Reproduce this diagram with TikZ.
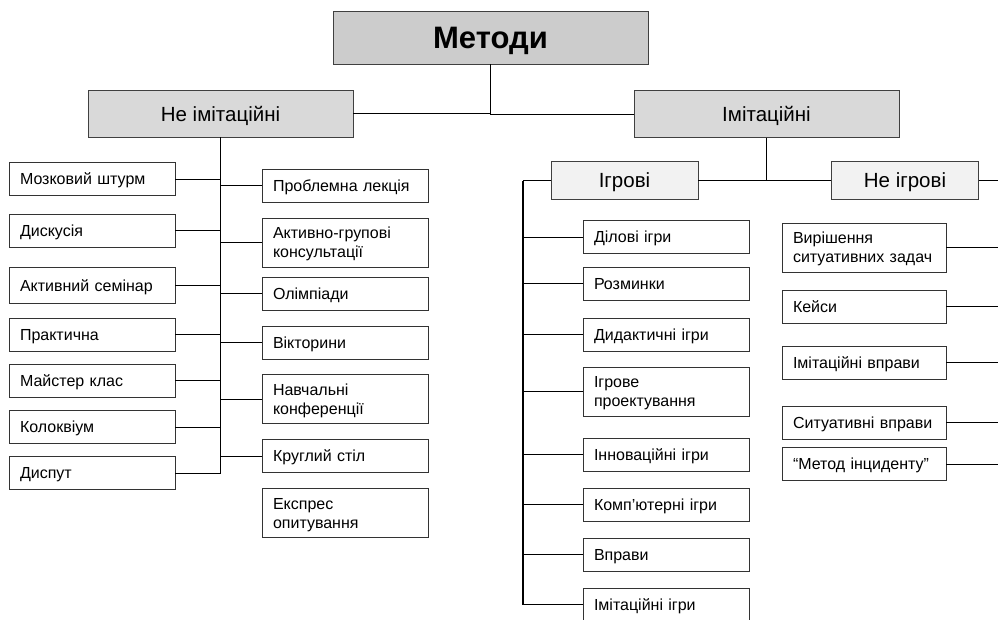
\documentclass[tikz,border=0pt]{standalone}
\usepackage{fontspec}
\setmainfont{Liberation Sans}
\usepackage{tikz}
\usetikzlibrary{shapes, arrows}
\tikzstyle{line} = [draw=black, line width=0.8pt]
\tikzstyle{trunk} = [draw=black, line width=1.4pt]
\tikzstyle{topbox} = [rectangle, minimum width = 315pt, minimum height = 53pt, text centered, text depth = 0pt, draw=black!75, line width=0.9pt, fill=gray!40, font=\fontsize{31}{36}\selectfont\bfseries]
\tikzstyle{groupbox} = [rectangle, minimum width = 265pt, minimum height = 47pt, text centered, text depth = 0pt, draw=black!75, line width=0.9pt, fill=gray!30, font=\fontsize{20.5}{24}\selectfont]
\tikzstyle{subbox} = [rectangle, minimum width = 147pt, minimum height = 38pt, text centered, text depth = 0pt, draw=black!75, line width=0.9pt, fill=gray!10, font=\fontsize{20.5}{24}\selectfont]
\tikzstyle{methodbox} = [rectangle, text width = 144pt, inner xsep = 11pt, minimum height = 33pt, align=left, text depth = 0pt, draw=black!80, line width=0.9pt, font=\fontsize{16}{19}\selectfont]
\tikzstyle{methodbox2} = [methodbox, minimum height = 49pt, text depth = 19pt]

\begin{document}
\begin{tikzpicture}[x=1pt, y=-1pt, node distance = 50pt]
				\useasboundingbox (0,0) rectangle (998,619);
				%\node(label)[type]{name}
				\node(metody)[topbox] at (490.5,37.5){Методи};
				\node(neimit)[groupbox] at (220.5,113.5){Не імітаційні};
				\node(imit)[groupbox] at (766.5,114){Імітаційні};
				\node(igrovi)[subbox] at (624.5,180.5){Ігрові};
				\node(neigrovi)[subbox] at (905,180.5){Не ігрові};
				
				%left column
				\node(mozk)[methodbox] at (92,179){Мозковий штурм};
				\node(dysk)[methodbox, below of = mozk, yshift = -1.5]{Дискусія};
				\node(aktsem)[methodbox, minimum height = 36pt, below of = dysk, yshift = -5]{Активний семінар};
				\node(prakt)[methodbox, below of = aktsem, yshift = 1]{Практична};
				\node(maister)[methodbox, below of = prakt, yshift = 4]{Майстер клас};
				\node(kolok)[methodbox, below of = maister, yshift = 3.5]{Колоквіум};
				\node(dysput)[methodbox, below of = kolok, yshift = 4]{Диспут};
				
				%middle column
				\node(problem)[methodbox] at (345,185.5){Проблемна лекція};
				\node(aktgrup)[methodbox2, below of = problem, yshift = -7]{Активно-групові\\консультації};
				\node(olimp)[methodbox, below of = aktgrup, yshift = -1]{Олімпіади};
				\node(viktor)[methodbox, below of = olimp, yshift = 1]{Вікторини};
				\node(navch)[methodbox2, below of = viktor, yshift = -6.5]{Навчальні\\конференції};
				\node(kruglyi)[methodbox, below of = navch, yshift = -7]{Круглий стіл};
				\node(ekspres)[methodbox2, below of = kruglyi, yshift = -7]{Експрес\\опитування};
				
				%games
				\node(dilovi)[methodbox] at (666,237){Ділові ігри};
				\node(rozm)[methodbox, below of = dilovi, yshift = 3.5]{Розминки};
				\node(dydakt)[methodbox, below of = rozm, yshift = -1]{Дидактичні ігри};
				\node(igrproekt)[methodbox2, below of = dydakt, yshift = -7]{Ігрове\\проектування};
				\node(innov)[methodbox, below of = igrproekt, yshift = -13]{Інноваційні ігри};
				\node(komp)[methodbox, below of = innov]{Комп’ютерні ігри};
				\node(vpravy)[methodbox, below of = komp]{Вправи};
				\node(imigry)[methodbox, below of = vpravy]{Імітаційні ігри};
				
				%not games
				\node(vyrish)[methodbox2, text width = 142pt] at (864,247.5){Вирішення\\ситуативних задач};
				\node(keisy)[methodbox, text width = 142pt, below of = vyrish, yshift = -9]{Кейси};
				\node(imvpr)[methodbox, text width = 142pt, below of = keisy, yshift = -6]{Імітаційні вправи};
				\node(sytvpr)[methodbox, text width = 142pt, below of = imvpr, yshift = -10]{Ситуативні вправи};
				\node(incid)[methodbox, text width = 142pt, below of = sytvpr, yshift = 8.5]{“Метод інциденту”};
				
				\coordinate(nend) at (neimit.south |- dysput.east);
				\coordinate(gturn) at (523,180.5);
				\coordinate(gend) at (gturn |- imigry.west);
				\coordinate(nturn) at (1010,180.5);
				
				%arrows
					\draw [line] (metody) |- (neimit);
					\draw [line] (metody) |- (imit);
					\draw [trunk] (neimit) -- (nend);
					\draw [line] (mozk) -- (mozk -| nend);
					\draw [line] (dysk) -- (dysk -| nend);
					\draw [line] (aktsem) -- (aktsem -| nend);
					\draw [line] (prakt) -- (prakt -| nend);
					\draw [line] (maister) -- (maister -| nend);
					\draw [line] (kolok) -- (kolok -| nend);
					\draw [line] (dysput) -- (nend);
					\draw [line] (problem) -- (problem -| nend);
					\draw [line] (aktgrup) -- (aktgrup -| nend);
					\draw [line] (olimp) -- (olimp -| nend);
					\draw [line] (viktor) -- (viktor -| nend);
					\draw [line] (navch) -- (navch -| nend);
					\draw [line] (kruglyi) -- (kruglyi -| nend);
					
					\draw [line] (imit) |- (igrovi);
					\draw [line] (imit) |- (neigrovi);
					\draw [line] (igrovi) -- (gturn);
					\draw [trunk] (gturn) -- (gend);
					\draw [line] (dilovi) -- (dilovi -| gturn);
					\draw [line] (rozm) -- (rozm -| gturn);
					\draw [line] (dydakt) -- (dydakt -| gturn);
					\draw [line] (igrproekt) -- (igrproekt -| gturn);
					\draw [line] (innov) -- (innov -| gturn);
					\draw [line] (komp) -- (komp -| gturn);
					\draw [line] (vpravy) -- (vpravy -| gturn);
					\draw [line] (imigry) -- (gend);
					
					\draw [line] (neigrovi) -- (nturn);
					\draw [line] (vyrish) -- (vyrish -| nturn);
					\draw [line] (keisy) -- (keisy -| nturn);
					\draw [line] (imvpr) -- (imvpr -| nturn);
					\draw [line] (sytvpr) -- (sytvpr -| nturn);
					\draw [line] (incid) -- (incid -| nturn);
				\end{tikzpicture}
\end{document}
